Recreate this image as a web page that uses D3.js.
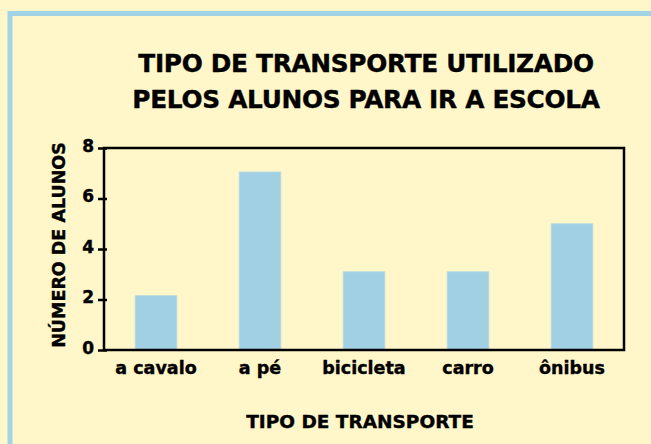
<!DOCTYPE html>
<html>
<head>
<meta charset="utf-8">
<script src="https://cdn.jsdelivr.net/npm/d3@7"></script>
<style>
  html, body { margin: 0; padding: 0; background: #fff6c9; }
  text { font-family: "DejaVu Sans", sans-serif; font-weight: bold; fill: #000; stroke: #000; stroke-width: 0.4px; }
</style>
</head>
<body>
<svg id="chart"></svg>
<script>
// dados
var categorias = ["a cavalo", "a pé", "bicicleta", "carro", "ônibus"];
var alunos = [2.15, 7.05, 3.1, 3.1, 5];
var yTicks = [0, 2, 4, 6, 8];
var titulo = ["TIPO DE TRANSPORTE UTILIZADO", "PELOS ALUNOS PARA IR A ESCOLA"];
var xTitulo = "TIPO DE TRANSPORTE";
var yTitulo = "NÚMERO DE ALUNOS";

var size = { width: 651, height: 444 };
var plot = { left: 104, right: 624, top: 148, bottom: 350 };

var svg = d3.select("#chart")
  .attr("width", size.width)
  .attr("height", size.height);

// fundo e moldura azul
svg.append("rect")
  .attr("width", size.width).attr("height", size.height)
  .attr("fill", "#fff6c9");
svg.append("path")
  .attr("d", "M10," + size.height + "V13.5H" + size.width)
  .attr("fill", "none")
  .attr("stroke", "#a3d3e6")
  .attr("stroke-width", 5);

// titulo
svg.append("text")
  .attr("x", 366).attr("y", 72)
  .attr("text-anchor", "middle")
  .style("font-size", "24.8px")
  .attr("letter-spacing", "-0.3px")
  .selectAll("tspan")
  .data(titulo)
  .enter().append("tspan")
    .attr("x", 366)
    .attr("dy", function(d, i){ return i ? 36 : 0; })
    .text(function(d){ return d; });

var x = d3.scaleBand()
  .domain(categorias)
  .range([plot.left, plot.right])
  .paddingInner(0.6)
  .paddingOuter(0.3);

var y = d3.scaleLinear()
  .domain([0, 8])
  .range([plot.bottom, plot.top]);

// barras
svg.selectAll("rect.bar")
  .data(alunos)
  .enter().append("rect")
    .attr("class", "bar")
    .attr("x", function(d, i){ return x(categorias[i]); })
    .attr("y", function(d){ return y(d); })
    .attr("width", x.bandwidth())
    .attr("height", function(d){ return y(0) - y(d); })
    .attr("fill", "#a1d0e4")
    .attr("stroke", "#b5dbe3")
    .attr("stroke-width", 0.8);

// moldura do grafico
svg.append("rect")
  .attr("x", plot.left).attr("y", y(8))
  .attr("width", plot.right - plot.left)
  .attr("height", y(0) - y(8))
  .attr("fill", "none")
  .attr("stroke", "#000")
  .attr("stroke-width", 2.5);

// eixo y
var yAxis = d3.axisLeft(y)
  .tickValues(yTicks)
  .tickSize(6)
  .tickPadding(4);

var gy = svg.append("g")
  .attr("transform", "translate(" + plot.left + ",0)")
  .call(yAxis);
gy.select(".domain").remove();
gy.selectAll(".tick line")
  .attr("x2", -6).attr("x1", 3)
  .attr("stroke", "#000").attr("stroke-width", 2.5);
gy.selectAll(".tick text")
  .attr("dy", "0.2em")
  .style("font-size", "17px");

// eixo x
var xAxis = d3.axisBottom(x)
  .tickSize(0)
  .tickPadding(12);

var gx = svg.append("g")
  .attr("transform", "translate(0," + plot.bottom + ")")
  .call(xAxis);
gx.select(".domain").remove();
gx.selectAll(".tick text")
  .attr("dy", "0.71em")
  .style("font-size", "17.5px");

// titulos dos eixos
svg.append("text")
  .attr("x", 360).attr("y", 428)
  .attr("text-anchor", "middle")
  .style("font-size", "18.5px")
  .text(xTitulo);

svg.append("text")
  .attr("transform", "translate(65,245) rotate(-90)")
  .attr("text-anchor", "middle")
  .style("font-size", "17.5px")
  .text(yTitulo);
</script>
</body>
</html>
